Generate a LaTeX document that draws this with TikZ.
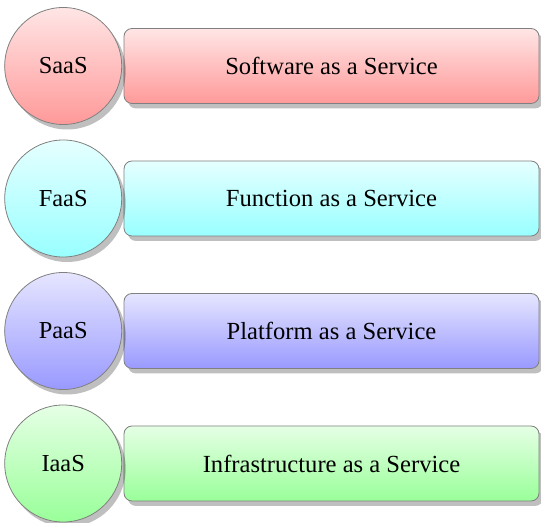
\documentclass[tikz,border=0pt]{standalone}
\usepackage{fontspec}
\setmainfont{Liberation Serif}
\newfontfamily\layerfont{Liberation Serif}
\usetikzlibrary{shadows,positioning}

\begin{document}
\begin{tikzpicture}[x=0.5pt,y=-0.5pt,
      layer_circle/.style={
         circle,
         draw=black!50,
         inner sep=0pt,
         minimum size=58.5pt,
         font=\layerfont\fontsize{12.2}{14}\selectfont,
         drop shadow={shadow xshift=2pt,shadow yshift=-2.5pt,opacity=0.25,fill=black}},
      layer_box/.style={
         rectangle,
         rounded corners=4pt,
         draw=black!50,
         inner sep=0pt,
         minimum width=207.5pt,
         minimum height=37.5pt,
         font=\layerfont\fontsize{12.3}{14}\selectfont,
         drop shadow={shadow xshift=2pt,shadow yshift=-2.5pt,opacity=0.25,fill=black}}
]
      \useasboundingbox (0,0) rectangle (541,523);

    \foreach \y/\c/\short/\long/\n in {% row/colour/short name/long name/node name
      66/red/SaaS/Software as a Service/s,
      198.5/cyan/FaaS/Function as a Service/f,
      331/blue/PaaS/Platform as a Service/p,
      463.5/green/IaaS/Infrastructure as a Service/i}
    {
      \node[layer_box,top color=\c!10,bottom color=\c!40] (\n_box) at (331.5,\y) {\long};
      \node[layer_circle,top color=\c!10,bottom color=\c!40,left=0.75pt of \n_box] (\n_circle) {\short};
    }

\end{tikzpicture}
\end{document}
